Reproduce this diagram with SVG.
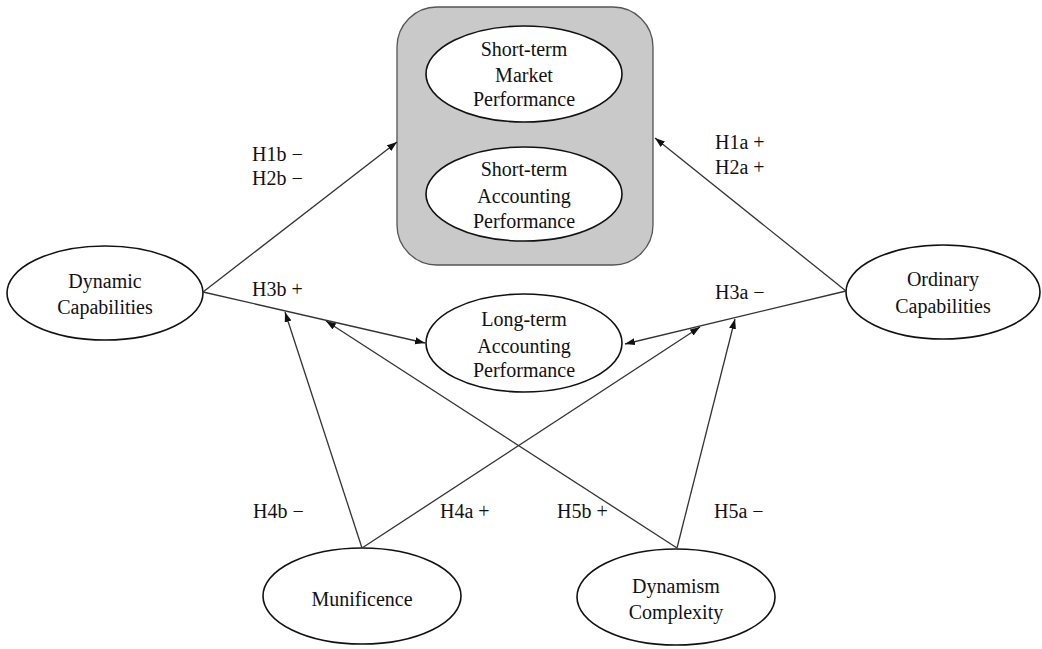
<svg xmlns="http://www.w3.org/2000/svg" width="1042" height="649" viewBox="0 0 1042 649">
<defs>
<marker id="arr" markerUnits="userSpaceOnUse" markerWidth="11" markerHeight="8" refX="10" refY="3.5" orient="auto">
<path d="M0,0 L10,3.5 L0,7 z" fill="#111"/>
</marker>
<style>
.t{font-family:"Liberation Serif","Times New Roman",serif;font-size:20px;fill:#111;text-anchor:middle}
.l{font-family:"Liberation Serif","Times New Roman",serif;font-size:20px;fill:#111}
.e{fill:#fff;stroke:#111;stroke-width:1.6}
.c{stroke:#333;stroke-width:1.3;fill:none}
</style>
</defs>
<rect width="1042" height="649" fill="#fff"/>
<g id="short-term-group">
<rect x="397" y="7" width="256" height="258" rx="40" ry="40" fill="#c9c9c9" stroke="#555" stroke-width="1.3"/>
</g>
<g id="short-term-market">
<ellipse class="e" cx="524" cy="74" rx="98" ry="48"/>
<text class="t" x="524" y="56">Short-term</text>
<text class="t" x="524" y="82">Market</text>
<text class="t" x="524" y="106">Performance</text>
</g>
<g id="short-term-accounting">
<ellipse class="e" cx="524" cy="194" rx="98" ry="47"/>
<text class="t" x="524" y="176">Short-term</text>
<text class="t" x="524" y="203">Accounting</text>
<text class="t" x="524" y="228">Performance</text>
</g>
<g id="dynamic-capabilities">
<ellipse class="e" cx="105" cy="293" rx="98" ry="47"/>
<text class="t" x="105" y="288">Dynamic</text>
<text class="t" x="105" y="314">Capabilities</text>
</g>
<g id="ordinary-capabilities">
<ellipse class="e" cx="943" cy="292" rx="97" ry="47"/>
<text class="t" x="943" y="286">Ordinary</text>
<text class="t" x="943" y="313">Capabilities</text>
</g>
<g id="long-term-accounting">
<ellipse class="e" cx="524" cy="343" rx="98" ry="49"/>
<text class="t" x="524" y="326">Long-term</text>
<text class="t" x="524" y="353">Accounting</text>
<text class="t" x="524" y="377">Performance</text>
</g>
<g id="munificence">
<ellipse class="e" cx="362" cy="596" rx="99" ry="48"/>
<text class="t" x="362" y="606">Munificence</text>
</g>
<g id="dynamism-complexity">
<ellipse class="e" cx="676" cy="597" rx="99" ry="48"/>
<text class="t" x="676" y="593">Dynamism</text>
<text class="t" x="676" y="619">Complexity</text>
</g>
<g id="connectors">
<line class="c" x1="203" y1="292" x2="397" y2="142" marker-end="url(#arr)"/>
<line class="c" x1="846" y1="291" x2="655" y2="138" marker-end="url(#arr)"/>
<line class="c" x1="203" y1="292" x2="425" y2="343" marker-end="url(#arr)"/>
<line class="c" x1="846" y1="291" x2="625" y2="344" marker-end="url(#arr)"/>
<line class="c" x1="362" y1="548" x2="285" y2="312" marker-end="url(#arr)"/>
<line class="c" x1="362" y1="548" x2="700" y2="327" marker-end="url(#arr)"/>
<line class="c" x1="677" y1="548" x2="326" y2="321" marker-end="url(#arr)"/>
<line class="c" x1="677" y1="548" x2="735" y2="319" marker-end="url(#arr)"/>
</g>
<g id="labels">
<text class="l" x="252" y="161">H1b −</text>
<text class="l" x="252" y="185">H2b −</text>
<text class="l" x="252" y="296">H3b +</text>
<text class="l" x="715" y="149">H1a +</text>
<text class="l" x="715" y="174">H2a +</text>
<text class="l" x="715" y="299">H3a −</text>
<text class="l" x="253" y="518">H4b −</text>
<text class="l" x="440" y="518">H4a +</text>
<text class="l" x="557" y="518">H5b +</text>
<text class="l" x="714" y="518">H5a −</text>
</g>
</svg>
